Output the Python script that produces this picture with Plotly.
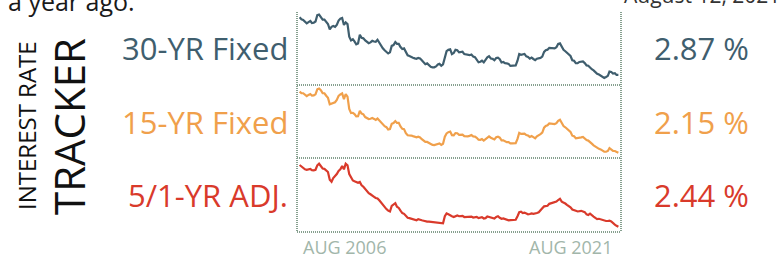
import pandas as pd
import plotly.graph_objects as go

# Monthly dates Aug 2006 .. Aug 2021
months = pd.date_range("2006-08-01", "2021-08-01", freq="MS")

rate_30 = [
    6.52, 6.40, 6.36, 6.24, 6.14,
    6.22, 6.29, 6.16, 6.18, 6.26, 6.66, 6.70, 6.57, 6.38, 6.38, 6.21, 6.10,
    5.76, 5.92, 5.97, 5.92, 6.04, 6.32, 6.43, 6.48, 6.04, 6.20, 6.09, 5.29,
    5.06, 5.13, 5.00, 4.81, 4.86, 5.42, 5.22, 5.19, 5.06, 4.95, 4.88, 4.93,
    5.03, 4.99, 4.97, 5.10, 4.89, 4.74, 4.56, 4.43, 4.35, 4.23, 4.30, 4.71,
    4.76, 4.95, 4.84, 4.84, 4.64, 4.51, 4.55, 4.27, 4.11, 4.07, 3.99, 3.96,
    3.92, 3.89, 3.95, 3.91, 3.80, 3.68, 3.55, 3.60, 3.50, 3.38, 3.35, 3.35,
    3.41, 3.53, 3.57, 3.45, 3.54, 4.07, 4.37, 4.46, 4.49, 4.19, 4.26, 4.46,
    4.43, 4.30, 4.34, 4.34, 4.19, 4.16, 4.13, 4.12, 4.16, 4.04, 4.00, 3.86,
    3.67, 3.71, 3.77, 3.67, 3.84, 3.98, 4.05, 3.91, 3.89, 3.80, 3.94, 3.96,
    3.87, 3.66, 3.69, 3.61, 3.60, 3.57, 3.44, 3.44, 3.46, 3.47, 3.77, 4.20,
    4.15, 4.17, 4.20, 4.05, 4.01, 3.90, 3.97, 3.88, 3.81, 3.90, 3.92, 3.95,
    4.03, 4.33, 4.44, 4.47, 4.59, 4.57, 4.53, 4.55, 4.63, 4.83, 4.87, 4.64,
    4.46, 4.37, 4.27, 4.14, 4.07, 3.80, 3.77, 3.62, 3.61, 3.69, 3.70, 3.72,
    3.62, 3.47, 3.45, 3.31, 3.23, 3.16, 3.02, 2.94, 2.89, 2.83, 2.77, 2.68,
    2.74, 2.81, 3.08, 3.06, 2.96, 2.98, 2.87, 2.87,
]

rate_15 = [
    6.14, 6.05, 6.04, 5.92, 5.85,
    5.93, 5.99, 5.88, 5.90, 5.97, 6.30, 6.35, 6.24, 6.05, 6.04, 5.88, 5.75,
    5.32, 5.37, 5.44, 5.45, 5.60, 5.87, 5.96, 6.03, 5.65, 5.99, 5.82, 5.01,
    4.74, 4.76, 4.68, 4.52, 4.53, 4.89, 4.71, 4.66, 4.48, 4.41, 4.35, 4.37,
    4.42, 4.36, 4.29, 4.38, 4.25, 4.17, 4.00, 3.88, 3.82, 3.67, 3.69, 4.04,
    4.09, 4.22, 4.10, 4.10, 3.87, 3.71, 3.69, 3.43, 3.29, 3.30, 3.27, 3.23,
    3.20, 3.16, 3.20, 3.15, 3.03, 2.93, 2.85, 2.85, 2.79, 2.68, 2.66, 2.65,
    2.69, 2.76, 2.75, 2.66, 2.73, 3.20, 3.41, 3.49, 3.53, 3.30, 3.29, 3.43,
    3.42, 3.32, 3.33, 3.33, 3.23, 3.21, 3.22, 3.25, 3.30, 3.21, 3.20, 3.12,
    3.00, 2.99, 3.04, 2.94, 3.04, 3.16, 3.21, 3.13, 3.09, 3.02, 3.16, 3.20,
    3.13, 2.96, 2.96, 2.87, 2.84, 2.84, 2.76, 2.76, 2.76, 2.77, 3.05, 3.45,
    3.38, 3.37, 3.40, 3.30, 3.27, 3.18, 3.24, 3.17, 3.09, 3.22, 3.27, 3.36,
    3.46, 3.79, 3.90, 3.94, 4.06, 4.04, 4.02, 4.02, 4.08, 4.23, 4.30, 4.10,
    3.89, 3.81, 3.71, 3.60, 3.51, 3.26, 3.22, 3.09, 3.10, 3.15, 3.15, 3.18,
    3.05, 2.97, 2.94, 2.80, 2.74, 2.63, 2.55, 2.44, 2.40, 2.36, 2.30, 2.21,
    2.21, 2.26, 2.45, 2.35, 2.27, 2.26, 2.18, 2.15,
]

rate_51 = [
    6.32, 6.21, 6.15, 6.05, 6.02,
    6.05, 6.07, 6.00, 5.98, 6.02, 6.30, 6.40, 6.25, 6.10, 6.08, 5.95, 5.88,
    5.40, 5.27, 5.50, 5.62, 5.75, 5.95, 6.05, 6.25, 6.05, 6.40, 6.30, 5.75,
    5.55, 5.35, 5.30, 5.25, 5.20, 5.25, 5.05, 4.95, 4.80, 4.65, 4.55, 4.48,
    4.42, 4.32, 4.25, 4.22, 4.10, 3.95, 3.80, 3.65, 3.55, 3.45, 3.40, 3.75,
    3.85, 3.92, 3.70, 3.62, 3.45, 3.30, 3.25, 3.10, 3.00, 2.98, 2.95, 2.90,
    2.88, 2.85, 2.92, 2.86, 2.85, 2.82, 2.78, 2.76, 2.76, 2.75, 2.73, 2.72,
    2.70, 2.72, 2.70, 2.66, 2.66, 3.10, 3.28, 3.22, 3.18, 3.10, 3.05, 3.12,
    3.15, 3.10, 3.12, 3.12, 3.05, 3.05, 3.04, 3.04, 3.08, 3.02, 3.04, 3.06,
    2.98, 3.00, 3.04, 2.96, 2.98, 3.08, 3.04, 3.02, 3.00, 2.96, 3.06, 3.10,
    3.00, 2.94, 2.96, 2.92, 2.90, 2.84, 2.86, 2.88, 2.90, 2.88, 3.10, 3.35,
    3.38, 3.30, 3.33, 3.25, 3.22, 3.24, 3.28, 3.25, 3.26, 3.30, 3.35, 3.50,
    3.60, 3.72, 3.75, 3.76, 3.88, 3.92, 3.94, 3.98, 4.02, 4.12, 4.20, 4.02,
    3.98, 3.90, 3.82, 3.76, 3.66, 3.52, 3.50, 3.44, 3.40, 3.42, 3.44, 3.40,
    3.36, 3.22, 3.18, 3.26, 3.14, 3.08, 3.00, 2.92, 2.94, 2.90, 2.86, 2.82,
    2.80, 2.80, 2.82, 2.78, 2.66, 2.58, 2.50, 2.44,
]

series_names = ["30-YR Fixed", "15-YR Fixed", "5/1-YR ADJ."]
current_values = ["2.87 %", "2.15 %", "2.44 %"]
tick_labels = ["AUG 2006", "AUG 2021"]
colors = ["#3f5e6e", "#f0a04b", "#d93a2b"]
y_ranges = [[2.23, 6.86], [1.80, 6.58], [2.11, 6.76]]

W, H = 783, 263
px = lambda v: v / W
py = lambda v: 1 - v / H

panel_top = [12, 85, 158]
panel_bot = [85, 158, 232]
x_left, x_right = 297, 621

fig = go.Figure()
all_rates = [rate_30, rate_15, rate_51]
for i, (vals, col) in enumerate(zip(all_rates, colors)):
    n = "" if i == 0 else str(i + 1)
    fig.add_trace(go.Scatter(
        x=months, y=vals, mode="lines",
        line=dict(color=col, width=2.2), xaxis="x" + n, yaxis="y" + n,
        hoverinfo="skip", showlegend=False,
    ))
    x_start = months[0] - pd.Timedelta(days=45)
    x_end = months[-1] + pd.Timedelta(days=45)
    fig.update_layout(**{
        "xaxis" + n: dict(domain=[px(x_left), px(x_right)], range=[x_start, x_end],
                          visible=False, anchor="y" + n, fixedrange=True),
        "yaxis" + n: dict(domain=[py(panel_bot[i]), py(panel_top[i])], range=y_ranges[i],
                          visible=False, anchor="x" + n, fixedrange=True),
    })

border = "#86a08f"
shapes = []
for xv in (x_left, x_right):
    shapes.append(dict(type="line", xref="paper", yref="paper",
                       x0=px(xv), x1=px(xv), y0=py(12), y1=py(232),
                       line=dict(color=border, width=2, dash="1px,1px")))
for yv in (85, 158, 232):
    shapes.append(dict(type="line", xref="paper", yref="paper",
                       x0=px(x_left), x1=px(x_right), y0=py(yv), y1=py(yv),
                       line=dict(color=border, width=2, dash="1px,1px")))

ann = []
font = "Open Sans"
for i in range(3):
    yc = (panel_top[i] + panel_bot[i]) / 2
    ann.append(dict(text=series_names[i], x=px(290), y=py(yc), xref="paper", yref="paper",
                    xanchor="right", yanchor="middle", showarrow=False,
                    font=dict(family=font, size=31, color=colors[i])))
    ann.append(dict(text=current_values[i], x=px(652), y=py(yc), xref="paper", yref="paper",
                    xanchor="left", yanchor="middle", showarrow=False,
                    font=dict(family=font, size=31, color=colors[i])))

ann.append(dict(text="INTEREST RATE", x=px(26), y=py(126), xref="paper", yref="paper",
                xanchor="center", yanchor="middle", textangle=-90, showarrow=False,
                font=dict(family=font, size=24, color="#111111")))
ann.append(dict(text="TRACKER", x=px(68), y=py(127), xref="paper", yref="paper",
                xanchor="center", yanchor="middle", textangle=-90, showarrow=False,
                font=dict(family=font, size=42, color="#111111")))

ann.append(dict(text=tick_labels[0], x=months[0], y=py(247), xref="x3", yref="paper",
                xanchor="left", yanchor="middle", xshift=1, showarrow=False,
                font=dict(family=font, size=18, color="#a2b6aa")))
ann.append(dict(text=tick_labels[1], x=months[-1], y=py(247), xref="x3", yref="paper",
                xanchor="right", yanchor="middle", xshift=-4, showarrow=False,
                font=dict(family=font, size=18, color="#a2b6aa")))

ann.append(dict(text="a year ago.", x=px(6), y=py(1), xref="paper", yref="paper",
                xanchor="left", yanchor="middle", showarrow=False,
                font=dict(family=font, size=25, color="#1a1a1a")))
ann.append(dict(text="August 12, 2021", x=px(782), y=py(-5), xref="paper", yref="paper",
                xanchor="right", yanchor="middle", showarrow=False,
                font=dict(family=font, size=21, color="#333333")))

fig.update_layout(
    width=W, height=H, margin=dict(l=0, r=0, t=0, b=0),
    paper_bgcolor="white", plot_bgcolor="white",
    shapes=shapes, annotations=ann, showlegend=False,
)

fig.write_html(
    "out.html",
    config={"displayModeBar": False, "staticPlot": True},
    post_script="document.body.style.margin='0';document.body.style.overflow='hidden';",
)
